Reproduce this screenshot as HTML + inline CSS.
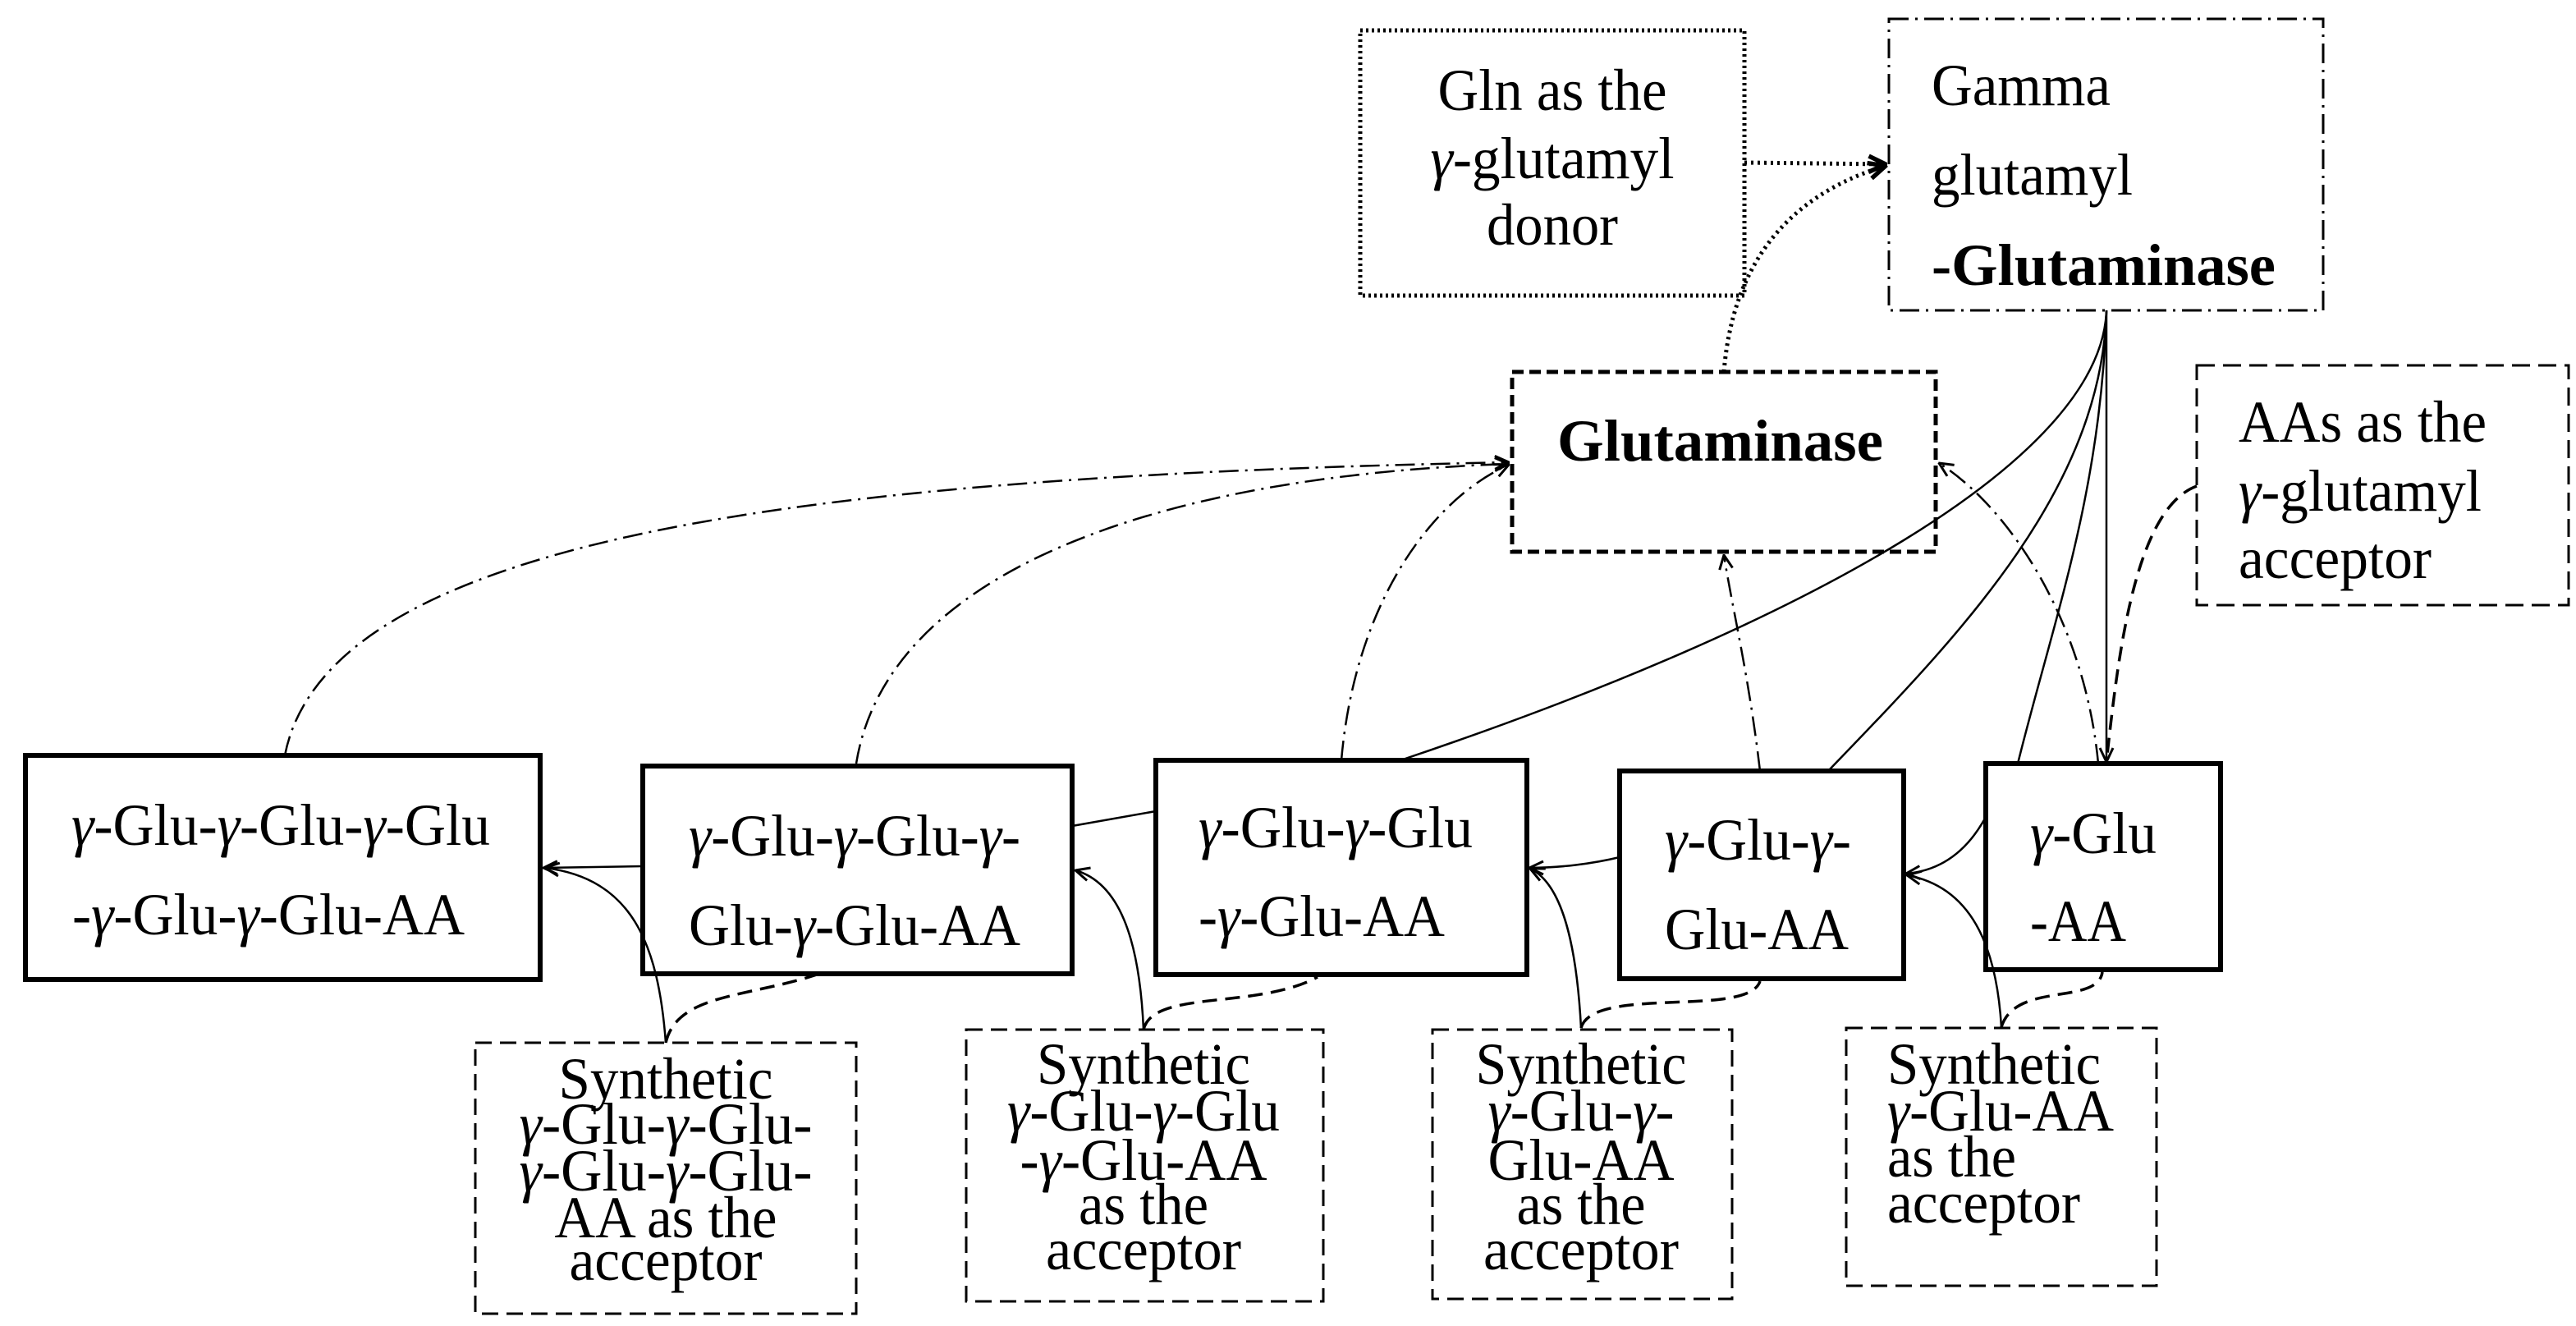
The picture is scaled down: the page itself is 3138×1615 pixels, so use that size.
<!DOCTYPE html>
<html><head><meta charset="utf-8"><style>
html,body{margin:0;padding:0;background:#fff;}
svg{display:block;}
text{font-family:"Liberation Serif","Times New Roman",serif;font-size:72px;fill:#000;}
.b{font-weight:bold;}
.i{font-style:italic;}
</style></head><body>
<svg width="3138" height="1615" viewBox="0 0 3138 1615" xmlns="http://www.w3.org/2000/svg" font-family="Liberation Serif, serif">
<defs>
<marker id="ar" viewBox="0 0 20 20" refX="19" refY="10" markerWidth="20" markerHeight="20" markerUnits="userSpaceOnUse" orient="auto">
<path d="M2,2 L19,10 L2,18" fill="none" stroke="#000" stroke-width="3"/>
</marker>
<marker id="arb" viewBox="0 0 24 24" refX="22" refY="12" markerWidth="26" markerHeight="26" markerUnits="userSpaceOnUse" orient="auto">
<path d="M3,3 L22,12 L3,21" fill="none" stroke="#000" stroke-width="5"/>
</marker>
</defs>

<rect x="1657" y="37" width="468" height="323" fill="none" stroke="#000" stroke-width="5" stroke-dasharray="3,4"/>
<rect x="2301" y="23" width="529" height="355" fill="none" stroke="#000" stroke-width="3" stroke-dasharray="24,8,3,8"/>
<rect x="1842" y="453" width="516" height="219" fill="none" stroke="#000" stroke-width="5" stroke-dasharray="14,7"/>
<rect x="2676" y="445" width="453" height="292" fill="none" stroke="#000" stroke-width="3" stroke-dasharray="22,10"/>

<rect x="31" y="920" width="627" height="273" fill="none" stroke="#000" stroke-width="6"/>
<rect x="783" y="933" width="523" height="253" fill="none" stroke="#000" stroke-width="6"/>
<rect x="1408" y="926" width="452" height="261" fill="none" stroke="#000" stroke-width="6"/>
<rect x="1973" y="939" width="346" height="253" fill="none" stroke="#000" stroke-width="6"/>
<rect x="2419" y="930" width="286" height="251" fill="none" stroke="#000" stroke-width="6"/>

<g fill="none" stroke="#000" stroke-width="3" stroke-dasharray="20,10">
<rect x="579" y="1270" width="464" height="330"/>
<rect x="1177" y="1254" width="435" height="331"/>
<rect x="1745" y="1254" width="365" height="328"/>
<rect x="2249" y="1252" width="378" height="314"/>
</g>

<g fill="none" stroke="#000" stroke-width="5" stroke-dasharray="3,5">
<path d="M2125,198 L2297,200" marker-end="url(#arb)"/>
<path d="M2100,453 C2110,330 2170,240 2297,202" marker-end="url(#arb)"/>
</g>

<g fill="none" stroke="#000" stroke-width="2.5">
<path d="M2566,378 C2560,560 2200,760 1706,926"/>
<path d="M1306,1006 L1408,988"/>
<path d="M2566,378 C2560,600 2380,780 2227,939"/>
<path d="M2566,378 C2560,600 2500,760 2458,930"/>
<path d="M2566,378 L2566,928" marker-end="url(#ar)"/>
<path d="M2419,995 C2400,1030 2370,1060 2322,1064" marker-end="url(#ar)"/>
<path d="M1973,1044 C1940,1052 1900,1057 1863,1057" marker-end="url(#ar)"/>
<path d="M783,1055 L662,1057" marker-end="url(#ar)"/>
<path d="M811,1270 C802,1150 770,1070 664,1057" marker-end="url(#ar)"/>
<path d="M1393,1254 C1388,1140 1362,1075 1310,1060" marker-end="url(#ar)"/>
<path d="M1926,1252 C1920,1140 1900,1075 1864,1058" marker-end="url(#ar)"/>
<path d="M2438,1251 C2432,1150 2400,1080 2323,1066" marker-end="url(#ar)"/>
</g>

<g fill="none" stroke="#000" stroke-width="3.5" stroke-dasharray="18,10">
<path d="M811,1270 C825,1210 910,1215 995,1187"/>
<path d="M1393,1254 C1405,1205 1530,1230 1605,1190"/>
<path d="M1926,1252 C1940,1200 2130,1240 2144,1195"/>
<path d="M2438,1251 C2455,1195 2555,1225 2561,1184"/>
<path d="M2676,592 C2600,620 2580,800 2566,928"/>
</g>

<g fill="none" stroke="#000" stroke-width="2.5" stroke-dasharray="24,8,3,8">
<path d="M347,920 C400,650 1000,580 1838,563" marker-end="url(#ar)"/>
<path d="M1043,930 C1080,700 1400,580 1838,565" marker-end="url(#ar)"/>
<path d="M1634,926 C1650,740 1740,610 1838,566" marker-end="url(#ar)"/>
<path d="M2144,939 C2130,820 2110,740 2100,676" marker-end="url(#ar)"/>
<path d="M2556,930 C2540,760 2450,620 2362,564" marker-end="url(#ar)"/>
</g>

<text x="1891" y="134" text-anchor="middle" textLength="279" lengthAdjust="spacingAndGlyphs">Gln as the</text>
<text x="1891" y="217" text-anchor="middle" textLength="297" lengthAdjust="spacingAndGlyphs"><tspan class="i">γ</tspan>-glutamyl</text>
<text x="1891" y="298" text-anchor="middle" textLength="160" lengthAdjust="spacingAndGlyphs">donor</text>

<text x="2353" y="128" textLength="218" lengthAdjust="spacingAndGlyphs">Gamma</text>
<text x="2353" y="237" textLength="245" lengthAdjust="spacingAndGlyphs">glutamyl</text>
<text x="2353" y="347" class="b" textLength="419" lengthAdjust="spacingAndGlyphs">-Glutaminase</text>

<text x="1897" y="561" class="b" textLength="397" lengthAdjust="spacingAndGlyphs">Glutaminase</text>

<text x="2727" y="538" textLength="302" lengthAdjust="spacingAndGlyphs">AAs as the</text>
<text x="2727" y="622" textLength="296" lengthAdjust="spacingAndGlyphs"><tspan class="i">γ</tspan>-glutamyl</text>
<text x="2727" y="704" textLength="235" lengthAdjust="spacingAndGlyphs">acceptor</text>

<text x="87" y="1029" textLength="510" lengthAdjust="spacingAndGlyphs"><tspan class="i">γ</tspan>-Glu-<tspan class="i">γ</tspan>-Glu-<tspan class="i">γ</tspan>-Glu</text>
<text x="88" y="1138" textLength="478" lengthAdjust="spacingAndGlyphs">-<tspan class="i">γ</tspan>-Glu-<tspan class="i">γ</tspan>-Glu-AA</text>
<text x="839" y="1042" textLength="404" lengthAdjust="spacingAndGlyphs"><tspan class="i">γ</tspan>-Glu-<tspan class="i">γ</tspan>-Glu-<tspan class="i">γ</tspan>-</text>
<text x="839" y="1151" textLength="404" lengthAdjust="spacingAndGlyphs">Glu-<tspan class="i">γ</tspan>-Glu-AA</text>
<text x="1460" y="1032" textLength="334" lengthAdjust="spacingAndGlyphs"><tspan class="i">γ</tspan>-Glu-<tspan class="i">γ</tspan>-Glu</text>
<text x="1460" y="1140" textLength="300" lengthAdjust="spacingAndGlyphs">-<tspan class="i">γ</tspan>-Glu-AA</text>
<text x="2028" y="1047" textLength="227" lengthAdjust="spacingAndGlyphs"><tspan class="i">γ</tspan>-Glu-<tspan class="i">γ</tspan>-</text>
<text x="2028" y="1156" textLength="224" lengthAdjust="spacingAndGlyphs">Glu-AA</text>
<text x="2473" y="1039" textLength="154" lengthAdjust="spacingAndGlyphs"><tspan class="i">γ</tspan>-Glu</text>
<text x="2473" y="1146" textLength="117" lengthAdjust="spacingAndGlyphs">-AA</text>

<g text-anchor="middle">
<text x="811" y="1338" textLength="261" lengthAdjust="spacingAndGlyphs">Synthetic</text>
<text x="811" y="1393" textLength="357" lengthAdjust="spacingAndGlyphs"><tspan class="i">γ</tspan>-Glu-<tspan class="i">γ</tspan>-Glu-</text>
<text x="811" y="1450" textLength="357" lengthAdjust="spacingAndGlyphs"><tspan class="i">γ</tspan>-Glu-<tspan class="i">γ</tspan>-Glu-</text>
<text x="811" y="1507" textLength="271" lengthAdjust="spacingAndGlyphs">AA as the</text>
<text x="811" y="1559" textLength="235" lengthAdjust="spacingAndGlyphs">acceptor</text>

<text x="1393" y="1320" textLength="260" lengthAdjust="spacingAndGlyphs">Synthetic</text>
<text x="1393" y="1377" textLength="332" lengthAdjust="spacingAndGlyphs"><tspan class="i">γ</tspan>-Glu-<tspan class="i">γ</tspan>-Glu</text>
<text x="1393" y="1437" textLength="301" lengthAdjust="spacingAndGlyphs">-<tspan class="i">γ</tspan>-Glu-AA</text>
<text x="1393" y="1491" textLength="158" lengthAdjust="spacingAndGlyphs">as the</text>
<text x="1393" y="1546" textLength="238" lengthAdjust="spacingAndGlyphs">acceptor</text>

<text x="1926" y="1320" textLength="257" lengthAdjust="spacingAndGlyphs">Synthetic</text>
<text x="1926" y="1377" textLength="227" lengthAdjust="spacingAndGlyphs"><tspan class="i">γ</tspan>-Glu-<tspan class="i">γ</tspan>-</text>
<text x="1926" y="1437" textLength="227" lengthAdjust="spacingAndGlyphs">Glu-AA</text>
<text x="1926" y="1491" textLength="157" lengthAdjust="spacingAndGlyphs">as the</text>
<text x="1926" y="1546" textLength="238" lengthAdjust="spacingAndGlyphs">acceptor</text>
</g>
<text x="2299" y="1320" textLength="260" lengthAdjust="spacingAndGlyphs">Synthetic</text>
<text x="2299" y="1377" textLength="276" lengthAdjust="spacingAndGlyphs"><tspan class="i">γ</tspan>-Glu-AA</text>
<text x="2299" y="1433" textLength="157" lengthAdjust="spacingAndGlyphs">as the</text>
<text x="2299" y="1489" textLength="235" lengthAdjust="spacingAndGlyphs">acceptor</text>
</svg>
</body></html>
